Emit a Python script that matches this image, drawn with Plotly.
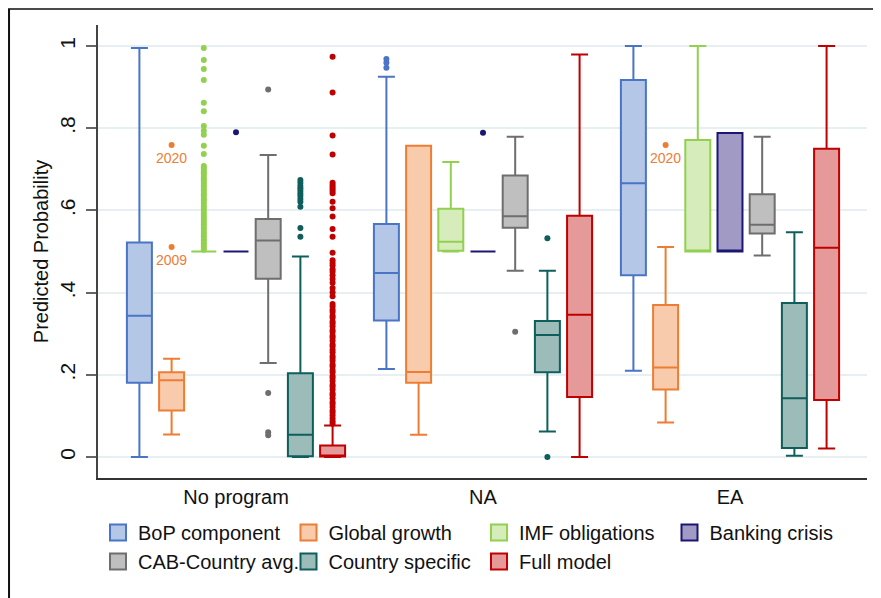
import plotly.graph_objects as go

# ---------------- data ----------------
categories = ["No program", "NA", "EA"]
series_names = ["BoP component", "Global growth", "IMF obligations", "Banking crisis",
                "CAB-Country avg.", "Country specific", "Full model"]

bop_lf = [0.000, 0.214, 0.210]
bop_q1 = [0.181, 0.332, 0.442]
bop_med = [0.344, 0.448, 0.666]
bop_q3 = [0.522, 0.567, 0.917]
bop_uf = [0.995, 0.925, 1.000]
bop_out = [[], [0.968, 0.959, 0.947], []]

gg_lf = [0.055, 0.054, 0.084]
gg_q1 = [0.113, 0.181, 0.164]
gg_med = [0.187, 0.207, 0.218]
gg_q3 = [0.206, 0.757, 0.370]
gg_uf = [0.239, 0.757, 0.511]
gg_out = [[0.759, 0.511], [], [0.759]]

imf_lf = [0.500, 0.500, 0.500]
imf_q1 = [0.500, 0.502, 0.500]
imf_med = [0.500, 0.524, 0.500]
imf_q3 = [0.500, 0.604, 0.771]
imf_uf = [0.500, 0.718, 1.000]
imf_out = [[0.995, 0.966, 0.944, 0.917, 0.862, 0.841, 0.805, 0.794, 0.784, 0.757, 0.737,
            0.708, 0.704, 0.698, 0.693, 0.688, 0.681, 0.676, 0.670, 0.664, 0.659, 0.652,
            0.647, 0.641, 0.636, 0.629, 0.624, 0.618, 0.611, 0.606, 0.601, 0.594, 0.589,
            0.583, 0.577, 0.572, 0.566, 0.560, 0.555, 0.548, 0.543, 0.537, 0.531, 0.526,
            0.520, 0.514, 0.509, 0.504], [], []]

bank_lf = [0.500, 0.500, 0.500]
bank_q1 = [0.500, 0.500, 0.500]
bank_med = [0.500, 0.500, 0.500]
bank_q3 = [0.500, 0.500, 0.788]
bank_uf = [0.500, 0.500, 0.788]
bank_out = [[0.790], [0.789], []]

cab_lf = [0.229, 0.453, 0.490]
cab_q1 = [0.434, 0.558, 0.544]
cab_med = [0.527, 0.586, 0.565]
cab_q3 = [0.579, 0.685, 0.639]
cab_uf = [0.735, 0.779, 0.779]
cab_out = [[0.894, 0.156, 0.060, 0.053], [0.305], []]

cs_lf = [0.000, 0.062, 0.003]
cs_q1 = [0.002, 0.206, 0.022]
cs_med = [0.054, 0.297, 0.143]
cs_q3 = [0.204, 0.331, 0.375]
cs_uf = [0.488, 0.453, 0.547]
cs_out = [[0.674, 0.667, 0.660, 0.654, 0.648, 0.641, 0.635, 0.628, 0.621, 0.609, 0.557, 0.536],
          [0.532, 0.000], []]

full_lf = [0.000, 0.000, 0.021]
full_q1 = [0.001, 0.146, 0.139]
full_med = [0.003, 0.346, 0.509]
full_q3 = [0.028, 0.587, 0.750]
full_uf = [0.077, 0.979, 1.000]
full_out = [[0.974, 0.887, 0.782, 0.736, 0.667, 0.662, 0.657, 0.652, 0.647, 0.642, 0.621,
             0.605, 0.585, 0.555, 0.536, 0.497, 0.479, 0.472, 0.466, 0.457, 0.451, 0.442,
             0.433, 0.424, 0.411, 0.401, 0.391, 0.372, 0.366, 0.358, 0.353, 0.344, 0.339,
             0.330, 0.325, 0.318, 0.309, 0.304, 0.295, 0.290, 0.283, 0.274, 0.269, 0.261,
             0.255, 0.246, 0.241, 0.234, 0.225, 0.220, 0.212, 0.206, 0.197, 0.192, 0.185,
             0.176, 0.171, 0.164, 0.155, 0.150, 0.143, 0.134, 0.129, 0.122, 0.113, 0.108,
             0.101, 0.094, 0.087, 0.081], [], []]

label_text = [["2020", "2009"], [], ["2020"]]
label_vals = [[0.759, 0.511], [], [0.759]]

line_colors = ["#4a74c6", "#ee7d33", "#92d050", "#1b1672", "#6e6e6e", "#0e5e5b", "#c00000"]
fill_colors = ["#b4c7e7", "#f8cbad", "#d6ecbb", "#a09ac5", "#bfbfbf", "#9cbcba", "#e69999"]

stats = [
    (bop_lf, bop_q1, bop_med, bop_q3, bop_uf, bop_out),
    (gg_lf, gg_q1, gg_med, gg_q3, gg_uf, gg_out),
    (imf_lf, imf_q1, imf_med, imf_q3, imf_uf, imf_out),
    (bank_lf, bank_q1, bank_med, bank_q3, bank_uf, bank_out),
    (cab_lf, cab_q1, cab_med, cab_q3, cab_uf, cab_out),
    (cs_lf, cs_q1, cs_med, cs_q3, cs_uf, cs_out),
    (full_lf, full_q1, full_med, full_q3, full_uf, full_out),
]

FONT = "Liberation Sans, Arial, sans-serif"
BOXGAP = 0.0875
BOXGROUPGAP = 0.224

fig = go.Figure()
for i, (lf, q1, med, q3, uf, out) in enumerate(stats):
    # sample points: the outliers; a box without outliers gets its median as the
    # only (hidden, inside-whisker) sample point so the trace stays well defined
    pts = [list(o) if len(o) else [m] for o, m in zip(out, med)]
    fig.add_trace(go.Box(
        name=series_names[i], x=categories, y=pts,
        lowerfence=lf, q1=q1, median=med, q3=q3, upperfence=uf,
        orientation="v", boxpoints="outliers", jitter=0, pointpos=0,
        whiskerwidth=0.68,
        line=dict(color=line_colors[i], width=2),
        fillcolor=fill_colors[i],
        marker=dict(color=line_colors[i], size=6, line=dict(width=0)),
        showlegend=False, legendgroup=series_names[i], hoverinfo="skip",
    ))

# legend swatches
for i, nm in enumerate(series_names):
    fig.add_trace(go.Scatter(
        x=[None], y=[None], mode="markers", name=nm, legendgroup=nm,
        marker=dict(symbol="square", size=20, color=fill_colors[i],
                    line=dict(color=line_colors[i], width=2)),
    ))

# year labels on Global growth outliers
n = len(series_names)
gg_idx = 1
offset = (2 * gg_idx + 1 - n) / n * (1 - BOXGAP) / 2
annotations = []
for ci, (texts, vals) in enumerate(zip(label_text, label_vals)):
    for t, v in zip(texts, vals):
        annotations.append(dict(
            x=ci + offset, y=v, xref="x", yref="y", text=t, showarrow=False,
            yanchor="top", yshift=-3,
            font=dict(family=FONT, size=14, color="#ee7d33")))

fig.update_layout(
    width=873, height=590,
    margin=dict(l=90, r=14, t=17, b=120, autoexpand=False),
    paper_bgcolor="white", plot_bgcolor="white",
    boxmode="group", boxgap=BOXGAP, boxgroupgap=BOXGROUPGAP,
    font=dict(family=FONT, color="#111111"),
    annotations=annotations,
    legend=dict(orientation="h", x=0.0, y=-0.077, xanchor="left", yanchor="top",
                entrywidth=145.5, entrywidthmode="pixels",
                font=dict(family=FONT, size=20, color="#111111"),
                bgcolor="rgba(0,0,0,0)", tracegroupgap=0),
    shapes=[
        dict(type="line", xref="paper", yref="paper", x0=-0.117, x1=1.03, y0=1.0355, y1=1.0355,
             line=dict(color="#4a4a4a", width=2)),
        dict(type="line", xref="paper", yref="paper", x0=-0.1157, x1=-0.1157, y0=1.0355, y1=-0.3,
             line=dict(color="#111111", width=2)),
    ],
)

fig.update_xaxes(
    type="category", categoryorder="array", categoryarray=categories,
    range=[-0.5587, 2.5547], automargin=False,
    showline=True, linecolor="#333333", linewidth=1.5,
    ticks="", showgrid=False,
    tickfont=dict(family=FONT, size=20, color="#111111"),
)
fig.update_yaxes(
    range=[-0.051, 1.051], automargin=False,
    tickvals=[0, 0.2, 0.4, 0.6, 0.8, 1.0],
    ticktext=["0", ".2", ".4", ".6", ".8", "1"],
    tickangle=-90, ticklabelstandoff=3,
    ticks="outside", ticklen=10, tickwidth=1.5, tickcolor="#666666",
    showline=True, linecolor="#444444", linewidth=1.5,
    showgrid=True, gridcolor="#e8eff2", gridwidth=1.5, zeroline=False,
    tickfont=dict(family=FONT, size=21, color="#111111"),
    title=dict(text="Predicted Probability", font=dict(family=FONT, size=20, color="#111111"),
               standoff=2),
)

fig.write_html("out.html")
